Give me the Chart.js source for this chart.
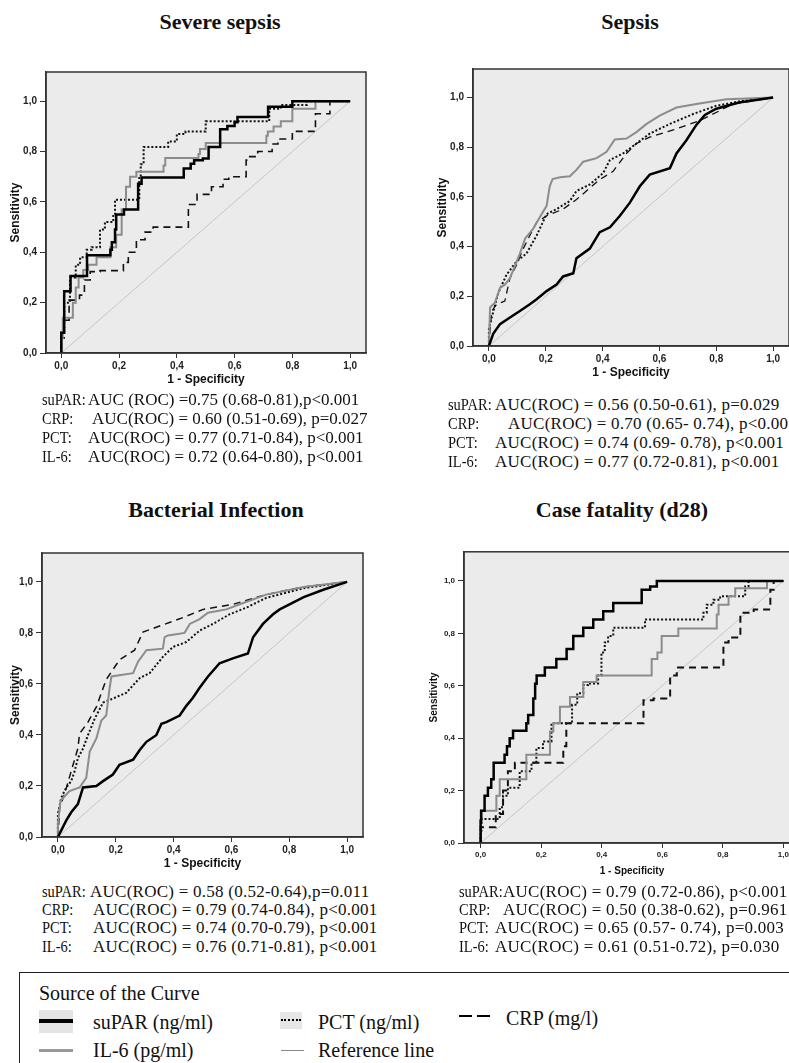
<!DOCTYPE html>
<html>
<head>
<meta charset="utf-8">
<title>ROC curves</title>
<script src="https://cdn.jsdelivr.net/npm/chart.js@4.4.1/dist/chart.umd.min.js"></script>
<style>
  body { margin: 0; width: 789px; height: 1063px; position: relative; overflow: hidden; background: #fff;
         font-family: "Liberation Serif", "Times New Roman", serif; color: #111; }
  canvas { position: absolute; }
  .title { position: absolute; font-weight: bold; font-size: 22px; white-space: nowrap; transform: translate(-50%, -50%); }
  .row { position: absolute; white-space: nowrap; font-size: 17px; transform: translateY(-50%); }
  .row.label { transform: translateY(-50%) scaleX(0.85); transform-origin: left center; }
  .legend { position: absolute; left: 19px; top: 972px; width: 800px; height: 140px; border: 1.5px solid #222; box-sizing: border-box; }
  .lg { position: absolute; font-size: 20px; white-space: nowrap; transform: translateY(-50%); }
  .sw { position: absolute; }
</style>
</head>
<body>

<div class="title" style="left:220px; top:22px;">Severe sepsis</div>
<div class="title" style="left:630px; top:22px;">Sepsis</div>
<div class="title" style="left:216px; top:510px;">Bacterial Infection</div>
<div class="title" style="left:622px; top:510px;">Case fatality (d28)</div>

<canvas id="severe"></canvas>
<canvas id="sepsis"></canvas>
<canvas id="bacterial"></canvas>
<canvas id="fatality"></canvas>

<div id="texts"></div>

<div class="legend"></div>
<div class="lg" style="left:39px; top:993px;">Source of the Curve</div>
<div class="sw" style="left:39px; top:1010px; width:34px; height:23px; background:#e4e4e4;"></div>
<div class="sw" style="left:39px; top:1019px; width:34px; height:0; border-top:4px solid #000;"></div>
<div class="lg" style="left:93px; top:1022px;">suPAR (ng/ml)</div>
<div class="sw" style="left:280px; top:1012px; width:22px; height:17px; background:#e6e6e6;"></div>
<div class="sw" style="left:281px; top:1019px; width:20px; height:0; border-top:2px dotted #000;"></div>
<div class="lg" style="left:318px; top:1022px;">PCT (ng/ml)</div>
<div class="sw" style="left:459px; top:1015px; width:13px; height:0; border-top:2.5px solid #000;"></div>
<div class="sw" style="left:477px; top:1015px; width:13px; height:0; border-top:2.5px solid #000;"></div>
<div class="lg" style="left:506px; top:1018px;">CRP (mg/l)</div>
<div class="sw" style="left:39px; top:1049px; width:34px; height:0; border-top:3px solid #999;"></div>
<div class="lg" style="left:93px; top:1050px;">IL-6 (pg/ml)</div>
<div class="sw" style="left:281px; top:1050px; width:23px; height:0; border-top:1px solid #888;"></div>
<div class="lg" style="left:318px; top:1050px;">Reference line</div>

<script>
// ROC points as [1 - specificity, sensitivity]
const severeSuPAR = [[0,0],[0.01,0.08],[0.032,0.245],[0.044,0.306],[0.089,0.306],[0.10,0.388],[0.17,0.388],[0.175,0.41],[0.186,0.44],[0.19,0.49],[0.20,0.55],[0.217,0.55],[0.217,0.57],[0.266,0.57],[0.266,0.623],[0.278,0.672],[0.29,0.697],[0.424,0.697],[0.424,0.714],[0.448,0.733],[0.46,0.752],[0.49,0.766],[0.51,0.772],[0.51,0.818],[0.55,0.818],[0.55,0.859],[0.575,0.889],[0.60,0.902],[0.61,0.916],[0.61,0.9375],[0.716,0.9375],[0.716,0.961],[0.731,0.978],[0.80,0.978],[0.80,1],[1,1]];
const severePCT = [[0,0],[0.01,0.08],[0.03,0.2],[0.05,0.3],[0.065,0.35],[0.088,0.38],[0.105,0.41],[0.134,0.42],[0.151,0.49],[0.18,0.52],[0.186,0.55],[0.215,0.609],[0.27,0.609],[0.275,0.70],[0.285,0.75],[0.31,0.818],[0.37,0.818],[0.40,0.84],[0.43,0.87],[0.44,0.88],[0.50,0.88],[0.50,0.916],[0.57,0.92],[0.72,0.92],[0.72,0.948],[0.76,0.97],[0.85,0.985],[0.88,1],[1,1]];
const severeIL6 = [[0,0],[0.005,0.06],[0.02,0.14],[0.04,0.14],[0.05,0.2],[0.06,0.26],[0.076,0.30],[0.093,0.33],[0.122,0.35],[0.17,0.38],[0.19,0.42],[0.209,0.47],[0.224,0.57],[0.238,0.66],[0.26,0.70],[0.284,0.72],[0.354,0.72],[0.36,0.745],[0.376,0.774],[0.475,0.774],[0.48,0.79],[0.50,0.81],[0.55,0.834],[0.71,0.834],[0.715,0.863],[0.735,0.88],[0.76,0.90],[0.80,0.92],[0.88,0.97],[0.93,1],[1,1]];
const severeCRP = [[0,0],[0.01,0.06],[0.027,0.13],[0.063,0.21],[0.08,0.23],[0.10,0.29],[0.134,0.323],[0.145,0.327],[0.215,0.327],[0.232,0.36],[0.26,0.40],[0.29,0.45],[0.318,0.48],[0.35,0.50],[0.44,0.50],[0.47,0.59],[0.485,0.63],[0.52,0.63],[0.56,0.66],[0.58,0.69],[0.64,0.70],[0.647,0.766],[0.68,0.78],[0.71,0.80],[0.73,0.80],[0.75,0.83],[0.80,0.85],[0.88,0.88],[0.93,0.95],[0.97,1],[1,1]];

const sepsisSuPAR = [[0,0],[0.015,0.049],[0.039,0.088],[0.074,0.115],[0.109,0.141],[0.144,0.168],[0.168,0.188],[0.203,0.221],[0.238,0.247],[0.261,0.28],[0.297,0.293],[0.308,0.353],[0.355,0.392],[0.39,0.458],[0.426,0.478],[0.461,0.524],[0.496,0.577],[0.531,0.643],[0.566,0.69],[0.637,0.716],[0.66,0.775],[0.695,0.828],[0.73,0.89],[0.76,0.93],[0.80,0.955],[0.88,0.98],[1,1]];
const sepsisPCT = [[0,0],[0,0.069],[0.01,0.115],[0.033,0.214],[0.062,0.287],[0.097,0.34],[0.132,0.372],[0.168,0.445],[0.203,0.531],[0.238,0.551],[0.285,0.584],[0.308,0.624],[0.355,0.65],[0.402,0.696],[0.426,0.749],[0.472,0.775],[0.519,0.815],[0.566,0.855],[0.637,0.894],[0.719,0.934],[0.80,0.967],[0.894,0.987],[1,1]];
const sepsisIL6 = [[0,0],[0.004,0.155],[0.021,0.174],[0.039,0.234],[0.056,0.247],[0.074,0.273],[0.109,0.372],[0.127,0.432],[0.156,0.472],[0.179,0.518],[0.203,0.564],[0.214,0.643],[0.224,0.672],[0.25,0.679],[0.285,0.683],[0.308,0.709],[0.332,0.742],[0.379,0.756],[0.414,0.782],[0.443,0.831],[0.484,0.835],[0.519,0.861],[0.555,0.894],[0.601,0.927],[0.66,0.96],[0.73,0.974],[0.836,0.993],[1,1]];
const sepsisCRP = [[0,0],[0.005,0.08],[0.01,0.141],[0.027,0.168],[0.056,0.181],[0.074,0.273],[0.097,0.326],[0.121,0.392],[0.144,0.445],[0.168,0.498],[0.203,0.524],[0.261,0.551],[0.308,0.59],[0.343,0.624],[0.39,0.67],[0.437,0.703],[0.484,0.775],[0.519,0.815],[0.566,0.841],[0.66,0.874],[0.742,0.907],[0.812,0.947],[0.859,0.974],[1,1]];

const bactSuPAR = [[0,0],[0.012,0.027],[0.029,0.065],[0.046,0.097],[0.069,0.129],[0.087,0.194],[0.133,0.2],[0.156,0.219],[0.19,0.245],[0.213,0.283],[0.26,0.303],[0.283,0.341],[0.306,0.373],[0.34,0.399],[0.358,0.444],[0.375,0.45],[0.421,0.476],[0.444,0.514],[0.467,0.546],[0.49,0.585],[0.519,0.629],[0.559,0.681],[0.605,0.70],[0.657,0.719],[0.675,0.783],[0.709,0.835],[0.744,0.873],[0.767,0.892],[0.85,0.94],[0.92,0.97],[1,1]];
const bactPCT = [[0,0],[0,0.091],[0.012,0.155],[0.029,0.194],[0.046,0.219],[0.058,0.258],[0.069,0.309],[0.087,0.347],[0.104,0.399],[0.127,0.463],[0.156,0.527],[0.185,0.54],[0.236,0.565],[0.283,0.623],[0.317,0.642],[0.363,0.706],[0.398,0.745],[0.444,0.764],[0.49,0.809],[0.536,0.835],[0.594,0.873],[0.652,0.899],[0.72,0.937],[0.85,0.975],[1,1]];
const bactIL6 = [[0,0],[0,0.053],[0.009,0.142],[0.04,0.18],[0.075,0.194],[0.098,0.232],[0.11,0.335],[0.133,0.386],[0.15,0.456],[0.167,0.476],[0.179,0.585],[0.185,0.629],[0.26,0.642],[0.277,0.687],[0.306,0.732],[0.363,0.738],[0.369,0.783],[0.381,0.79],[0.438,0.80],[0.456,0.835],[0.49,0.854],[0.519,0.879],[0.582,0.892],[0.629,0.912],[0.72,0.95],[0.85,0.98],[1,1]];
const bactCRP = [[0,0],[0.006,0.117],[0.023,0.168],[0.046,0.258],[0.069,0.347],[0.075,0.405],[0.104,0.45],[0.133,0.51],[0.167,0.617],[0.213,0.694],[0.265,0.732],[0.294,0.803],[0.34,0.822],[0.433,0.86],[0.502,0.892],[0.606,0.912],[0.72,0.95],[0.85,0.98],[1,1]];

const fatalSuPAR = [[0,0],[0.002,0.086],[0.013,0.123],[0.024,0.18],[0.035,0.211],[0.043,0.243],[0.05,0.306],[0.079,0.306],[0.087,0.337],[0.096,0.369],[0.107,0.40],[0.118,0.428],[0.151,0.428],[0.157,0.457],[0.174,0.488],[0.18,0.551],[0.185,0.608],[0.212,0.639],[0.25,0.67],[0.284,0.702],[0.306,0.74],[0.339,0.79],[0.372,0.821],[0.405,0.853],[0.438,0.884],[0.532,0.916],[0.56,0.966],[0.582,0.979],[0.609,1],[1,1]];
const fatalPCT = [[0,0],[0.003,0.048],[0.013,0.092],[0.063,0.092],[0.074,0.136],[0.09,0.18],[0.129,0.211],[0.168,0.274],[0.184,0.306],[0.206,0.362],[0.234,0.387],[0.245,0.457],[0.302,0.457],[0.319,0.527],[0.339,0.571],[0.355,0.603],[0.388,0.609],[0.399,0.639],[0.41,0.727],[0.421,0.765],[0.438,0.79],[0.46,0.821],[0.543,0.821],[0.548,0.853],[0.736,0.853],[0.747,0.878],[0.769,0.909],[0.791,0.928],[0.813,0.941],[0.874,0.941],[0.885,0.979],[0.902,1],[1,1]];
const fatalIL6 = [[0,0],[0.008,0.123],[0.052,0.123],[0.063,0.18],[0.079,0.243],[0.151,0.243],[0.157,0.337],[0.229,0.337],[0.24,0.425],[0.262,0.457],[0.295,0.52],[0.339,0.557],[0.383,0.614],[0.40,0.639],[0.565,0.639],[0.584,0.702],[0.598,0.727],[0.653,0.79],[0.692,0.818],[0.78,0.818],[0.786,0.872],[0.819,0.909],[0.841,0.941],[0.946,0.972],[0.946,1],[1,1]];
const fatalCRP = [[0,0],[0.008,0.06],[0.05,0.06],[0.074,0.111],[0.09,0.2],[0.113,0.274],[0.173,0.306],[0.273,0.306],[0.283,0.369],[0.306,0.457],[0.538,0.457],[0.571,0.545],[0.626,0.551],[0.648,0.639],[0.654,0.67],[0.802,0.67],[0.819,0.765],[0.858,0.784],[0.902,0.878],[0.957,0.891],[0.968,0.966],[0.985,1],[1,1]];

const axisTicks = [0, 0.2, 0.4, 0.6, 0.8, 1.0];
const diagonal = [[0, 0], [1, 1]];

// AUC summaries printed under each panel
const severeAUC = [['suPAR:', 'AUC (ROC) =0.75 (0.68-0.81),p<0.001'], ['CRP:', 'AUC(ROC) = 0.60 (0.51-0.69), p=0.027'], ['PCT:', 'AUC(ROC) = 0.77 (0.71-0.84), p<0.001'], ['IL-6:', 'AUC(ROC) = 0.72 (0.64-0.80), p<0.001']];
const sepsisAUC = [['suPAR:', 'AUC(ROC) = 0.56 (0.50-0.61), p=0.029'], ['CRP:', 'AUC(ROC) = 0.70 (0.65- 0.74), p<0.001'], ['PCT:', 'AUC(ROC) = 0.74 (0.69- 0.78), p<0.001'], ['IL-6:', 'AUC(ROC) = 0.77 (0.72-0.81),  p<0.001']];
const bactAUC = [['suPAR:', 'AUC(ROC) = 0.58 (0.52-0.64),p=0.011'], ['CRP:', 'AUC(ROC) = 0.79 (0.74-0.84), p<0.001'], ['PCT:', 'AUC(ROC) = 0.74 (0.70-0.79), p<0.001'], ['IL-6:', 'AUC(ROC) = 0.76 (0.71-0.81), p<0.001']];
const fatalAUC = [['suPAR:', 'AUC(ROC) = 0.79 (0.72-0.86), p<0.001'], ['CRP:', 'AUC(ROC) = 0.50 (0.38-0.62), p=0.961'], ['PCT:', 'AUC(ROC) = 0.65 (0.57- 0.74), p=0.003'], ['IL-6:', 'AUC(ROC) = 0.61 (0.51-0.72),  p=0.030']];

function addText(rows, labelX, bodyX, ys, spacing) {
  const box = document.getElementById('texts');
  rows.forEach((r, i) => {
    const a = document.createElement('div');
    a.className = 'row label';
    a.style.cssText = `left:${labelX}px;top:${ys[i]}px`;
    a.textContent = r[0];
    const b = document.createElement('div');
    b.className = 'row';
    b.style.cssText = `left:${bodyX[i]}px;top:${ys[i]}px;letter-spacing:${spacing}px`;
    b.textContent = r[1];
    box.append(a, b);
  });
}
addText(severeAUC, 42, [88, 92, 88, 88], [400, 419, 438, 457], 0);
addText(sepsisAUC, 448, [495, 508, 495, 495], [405, 424, 443, 462], 0.25);
addText(bactAUC, 42, [90, 93, 93, 93], [892, 910, 928, 947], 0.25);
addText(fatalAUC, 459, [503, 503, 495, 495], [892, 910, 928, 947], 0.25);

const toXY = pts => pts.map(p => ({ x: p[0], y: p[1] }));

// grey plot background and dark frame round the chart area
const framePlugin = {
  id: 'frame',
  beforeDraw(chart) {
    const { ctx, chartArea: a } = chart;
    ctx.save();
    ctx.fillStyle = '#ebebeb';
    ctx.fillRect(a.left, a.top, a.right - a.left, a.bottom - a.top);
    ctx.restore();
  },
  afterDraw(chart) {
    const { ctx, chartArea: a } = chart;
    ctx.save();
    ctx.strokeStyle = '#333';
    ctx.lineWidth = 1.5;
    ctx.strokeRect(a.left, a.top, a.right - a.left, a.bottom - a.top);
    ctx.restore();
  }
};

function rocChart(id, box, curves, stepped) {
  const el = document.getElementById(id);
  el.width = box.w;
  el.height = box.h;
  el.style.left = box.left + 'px';
  el.style.top = box.top + 'px';
  const tickFont = { family: 'Liberation Sans', size: box.tick, weight: 'bold' };
  const titleFont = { family: 'Liberation Sans', size: box.label, weight: 'bold' };
  const step = stepped ? 'after' : false;

  new Chart(el, {
    type: 'scatter',
    data: {
      datasets: [
        { label: 'Reference line', data: toXY(diagonal), borderColor: '#c6c6c6', borderWidth: 1, order: 9 },
        { label: 'CRP (mg/l)', data: toXY(curves.crp), borderColor: '#111', borderWidth: box.dashW, borderDash: [7, 5], stepped: step, order: 4 },
        { label: 'PCT (ng/ml)', data: toXY(curves.pct), borderColor: '#111', borderWidth: 2, borderDash: [2, 2], stepped: step, order: 3 },
        { label: 'IL-6 (pg/ml)', data: toXY(curves.il6), borderColor: '#8c8c8c', borderWidth: 2, stepped: step, order: 2 },
        { label: 'suPAR (ng/ml)', data: toXY(curves.supar), borderColor: '#000', borderWidth: 2.5, stepped: step, order: 1 }
      ].map(d => Object.assign({ showLine: true, pointRadius: 0, fill: false }, d))
    },
    options: {
      responsive: false,
      animation: false,
      devicePixelRatio: 1,
      layout: { padding: { top: 4, right: 4, left: 0, bottom: 0 } },
      plugins: { legend: { display: false }, tooltip: { enabled: false } },
      scales: {
        x: {
          type: 'linear', min: box.xMin, max: box.xMax,
          afterBuildTicks: s => { s.ticks = axisTicks.map(v => ({ value: v })); },
          afterFit: s => { s.height = 40; },
          ticks: { font: tickFont, color: '#222', padding: 2, callback: v => v.toFixed(1).replace('.', ',') },
          grid: { drawOnChartArea: false, drawTicks: true, tickLength: 5, color: '#333' },
          border: { display: true, color: '#333', width: 1.5 },
          title: { display: true, text: '1 - Specificity', font: titleFont, color: '#111', padding: { top: 0, bottom: 6 } }
        },
        y: {
          type: 'linear', min: 0, max: box.yMax,
          afterBuildTicks: s => { s.ticks = axisTicks.map(v => ({ value: v })); },
          afterFit: s => { s.width = box.yW; },
          ticks: { font: tickFont, color: '#222', padding: 3, callback: v => v.toFixed(1).replace('.', ',') },
          grid: { drawOnChartArea: false, drawTicks: true, tickLength: 6, color: '#333' },
          border: { display: true, color: '#333', width: 1.5 },
          title: { display: true, text: 'Sensitivity', font: titleFont, color: '#111', padding: { top: 8, bottom: 0 } }
        }
      }
    },
    plugins: [framePlugin]
  });
}

rocChart('severe', { left: 0, top: 63, w: 370, h: 330, yW: 46, xMin: -0.053, xMax: 1.055, yMax: 1.116, tick: 10, label: 12, dashW: 1.6 },
  { supar: severeSuPAR, pct: severePCT, il6: severeIL6, crp: severeCRP }, true);
rocChart('sepsis', { left: 427, top: 60, w: 366, h: 326, yW: 46, xMin: -0.056, xMax: 1.056, yMax: 1.115, tick: 10, label: 12, dashW: 1.3 },
  { supar: sepsisSuPAR, pct: sepsisPCT, il6: sepsisIL6, crp: sepsisCRP }, false);
rocChart('bacterial', { left: 0, top: 544, w: 367, h: 333, yW: 42, xMin: -0.055, xMax: 1.055, yMax: 1.113, tick: 10, label: 12, dashW: 1.5 },
  { supar: bactSuPAR, pct: bactPCT, il6: bactIL6, crp: bactCRP }, false);
rocChart('fatality', { left: 420, top: 544, w: 384, h: 339, yW: 44, xMin: -0.055, xMax: 1.055, yMax: 1.111, tick: 8, label: 10, dashW: 2 },
  { supar: fatalSuPAR, pct: fatalPCT, il6: fatalIL6, crp: fatalCRP }, true);
</script>
</body>
</html>
